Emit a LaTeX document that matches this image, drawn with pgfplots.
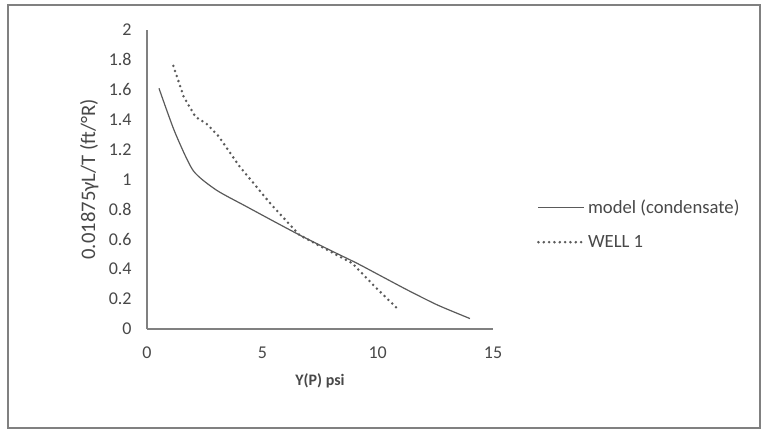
\documentclass[border=0pt]{standalone}
\usepackage{fontspec}
\setmainfont{Carlito}
\usepackage{pgfplots}
\pgfplotsset{compat=1.18}
\definecolor{txt}{HTML}{484848}
\definecolor{ln}{HTML}{5A5A5A}
\definecolor{ax}{HTML}{808080}

\begin{document}
\begin{tikzpicture}[x=0.75pt,y=0.75pt]
\useasboundingbox (-147,-104) rectangle (619,329);
\draw[ax, line width=0.8pt] (-139,-99) rectangle (613,324);
\begin{axis}[
    at={(0,0)}, anchor=origin,
    scale only axis,
    width=259.5pt, height=224.25pt,
    xmin=0, xmax=15, ymin=0, ymax=2,
    axis x line*=bottom, axis y line*=left,
    axis line style={ax, line width=0.9pt, -},
    xtick={0,5,10,15}, ytick={0,0.2,...,2},
    major tick length=0pt,
    tick label style={txt, font=\fontsize{13.5}{15}\selectfont},
    /pgf/number format/assume math mode=true,
    yticklabel style={xshift=-8pt},
    xticklabel style={yshift=-10pt},
    xlabel={\textbf{Y(P) psi}},
    xlabel style={txt, font=\fontsize{12}{14}\selectfont, yshift=-4pt},
    ylabel={0.01875γL/T (ft/°R)},
    ylabel style={txt, font=\fontsize{15.5}{17}\selectfont, yshift=1pt},
    legend style={draw=none, fill=none, at={(1.115,0.35)}, anchor=west,
        font=\fontsize{14}{16}\selectfont, text=txt, row sep=11pt},
    legend cell align=left,
    legend image code/.code={\draw[#1] (0cm,0cm) -- (1.2cm,0cm);},
    clip=false,
]
\addplot[ln, line width=0.9pt, smooth, tension=0.4] coordinates {
    (0.52,1.61) (1.2,1.32) (2.0,1.06) (3.0,0.93) (4.3,0.82)
    (5.5,0.72) (6.6,0.63) (7.9,0.53) (9.1,0.44) (10.2,0.35)
    (11.3,0.26) (12.6,0.16) (14.0,0.07)
};
\addlegendentry{model (condensate)}
\addplot[ln, line width=2.1pt, line cap=round, dash pattern=on 0pt off 4pt] coordinates {
    (1.14,1.76) (1.6,1.55) (2.1,1.42) (2.6,1.37) (3.1,1.29)
    (4.0,1.09) (5.4,0.83) (6.6,0.63) (7.8,0.53) (8.9,0.44)
    (9.9,0.28) (10.9,0.13)
};
\addlegendentry{WELL 1}
\end{axis}
\end{tikzpicture}
\end{document}
